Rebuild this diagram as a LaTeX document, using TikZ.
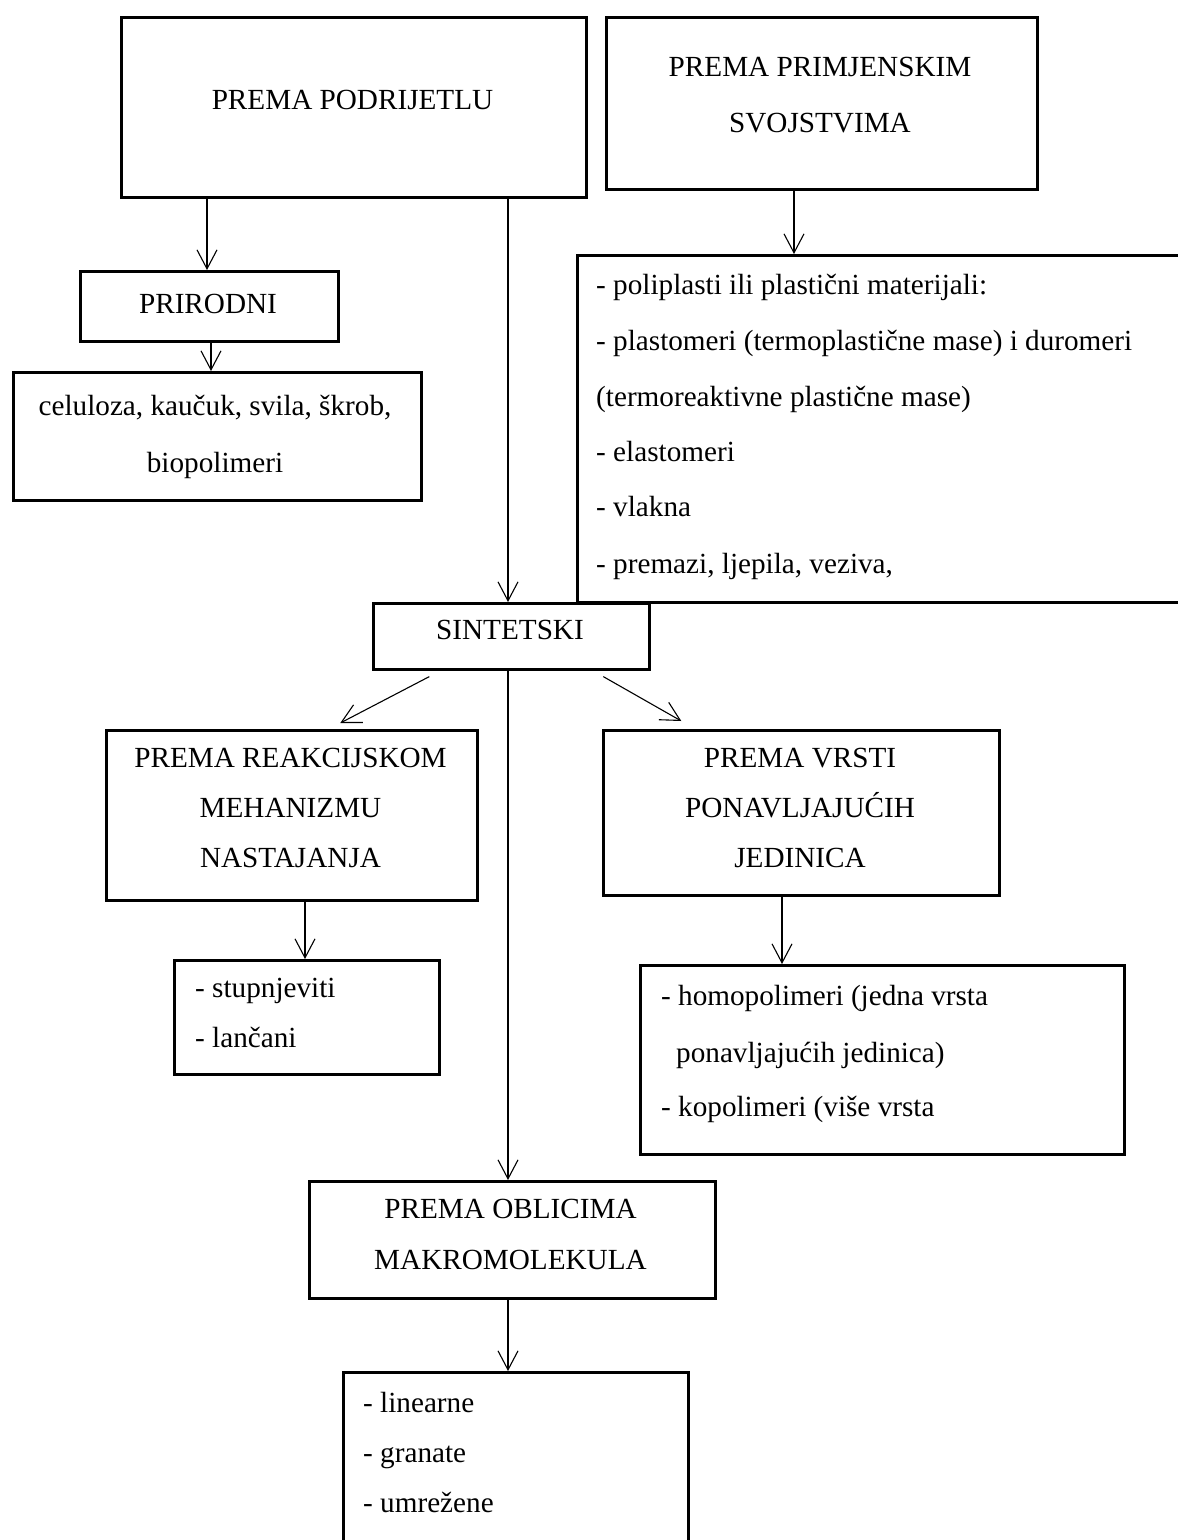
\documentclass[tikz,border=0pt]{standalone}
\usepackage{fontspec}
\setmainfont{Liberation Serif}
\usetikzlibrary{arrows.meta,calc}
\tikzset{
  box/.style={draw=black,line width=2.6pt,rectangle,inner sep=0pt,anchor=north west},
  txt/.style={inner sep=0pt,anchor=base,font=\fontsize{29.2}{35}\selectfont},
  ltxt/.style={txt,anchor=base west},
  arr/.style={draw=black,line width=1.1pt,-{Straight Barb[length=19pt,width=20pt,line width=1.1pt]}}
}
\begin{document}
\begin{tikzpicture}[x=1pt,y=-1pt]
\useasboundingbox (0,0) rectangle (1178,1540);
\fill[white] (0,0) rectangle (1178,1540);
\clip (0,0) rectangle (1178,1540);
% boxes
\node[box,minimum width=465pt,minimum height=180pt] (A) at (120,16) {};
\node[box,minimum width=431pt,minimum height=172pt] (B) at (605,16) {};
\node[box,minimum width=258pt,minimum height=70pt] (prir) at (79,270) {};
\node[box,minimum width=408pt,minimum height=128pt] (cel) at (12,371) {};
\node[box,minimum width=640pt,minimum height=347pt] (C) at (576,254) {};
\node[box,minimum width=276pt,minimum height=66pt] (sint) at (372,602) {};
\node[box,minimum width=371pt,minimum height=170pt] (D) at (105,729) {};
\node[box,minimum width=396pt,minimum height=165pt] (E) at (602,729) {};
\node[box,minimum width=265pt,minimum height=114pt] (G) at (173,959) {};
\node[box,minimum width=484pt,minimum height=189pt] (F) at (639,964) {};
\node[box,minimum width=406pt,minimum height=117pt] (H) at (308,1180) {};
\node[box,minimum width=345pt,minimum height=200pt] (I) at (342,1371) {};
% texts
\node[txt] (tA) at (352.5,109) {PREMA PODRIJETLU};
\node[txt] (tB1) at (820,76) {PREMA PRIMJENSKIM};
\node[txt] (tB2) at (820,132) {SVOJSTVIMA};
\node[txt] (tP) at (208,313) {PRIRODNI};
\node[txt] (tc1) at (215,415) {celuloza, kaučuk, svila, škrob,};
\node[txt] (tc2) at (215,472) {biopolimeri};
\node[ltxt] (tC1) at (596,294) {- poliplasti ili plastični materijali:};
\node[ltxt] (tC2) at (596,350) {- plastomeri (termoplastične mase) i duromeri};
\node[ltxt] (tC3) at (596,406) {(termoreaktivne plastične mase)};
\node[ltxt] (tC4) at (596,461) {- elastomeri};
\node[ltxt] (tC5) at (596,516) {- vlakna};
\node[ltxt] (tC6) at (596,573) {- premazi, ljepila, veziva,};
\node[txt] (tS) at (510,639) {SINTETSKI};
\node[txt] (tD1) at (290.5,767) {PREMA REAKCIJSKOM};
\node[txt] (tD2) at (290.5,817) {MEHANIZMU};
\node[txt] (tD3) at (290.5,867) {NASTAJANJA};
\node[txt] (tE1) at (800,767) {PREMA VRSTI};
\node[txt] (tE2) at (800,817) {PONAVLJAJUĆIH};
\node[txt] (tE3) at (800,867) {JEDINICA};
\node[ltxt] (tG1) at (195,997) {- stupnjeviti};
\node[ltxt] (tG2) at (195,1047) {- lančani};
\node[ltxt] (tF1) at (661,1005) {- homopolimeri (jedna vrsta};
\node[ltxt] (tF2) at (676,1062) {ponavljajućih jedinica)};
\node[ltxt] (tF3) at (661,1116) {- kopolimeri (više vrsta};
\node[txt] (tH1) at (510.5,1218) {PREMA OBLICIMA};
\node[txt] (tH2) at (510.5,1269) {MAKROMOLEKULA};
\node[ltxt] (tI1) at (363,1412) {- linearne};
\node[ltxt] (tI2) at (363,1462) {- granate};
\node[ltxt] (tI3) at (363,1512) {- umrežene};
% connectors
\draw[arr] (A.south -| 207,0) -- (prir.north -| 207,0);
\draw[arr] (prir.south -| 211,0) -- (cel.north -| 211,0);
\draw[arr] (A.south -| 508,0) -- (sint.north -| 508,0);
\draw[arr] (B.south -| 794,0) -- (C.north -| 794,0);
\draw[arr] ($(sint.south)+(-82,6)$) -- ($(D.north)+(48.5,-6)$);
\draw[arr] ($(sint.south)+(92,6)$) -- ($(E.north)+(-120,-8)$);
\draw[arr] (sint.south -| 508,0) -- (H.north -| 508,0);
\draw[arr] (D.south -| 305,0) -- (G.north -| 305,0);
\draw[arr] (E.south -| 782,0) -- (F.north -| 782,0);
\draw[arr] (H.south -| 508,0) -- (I.north -| 508,0);
\end{tikzpicture}
\end{document}
